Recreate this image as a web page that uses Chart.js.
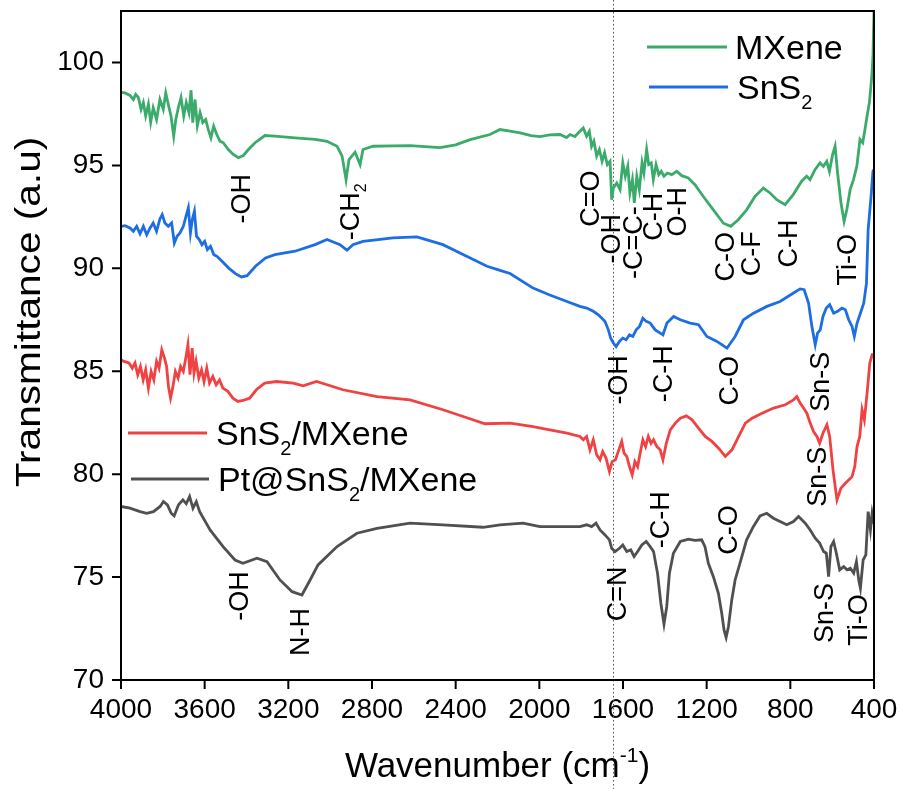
<!DOCTYPE html>
<html>
<head>
<meta charset="utf-8">
<script src="https://cdn.jsdelivr.net/npm/chart.js@4.4.1/dist/chart.umd.min.js"></script>
<style>
  html, body { margin: 0; padding: 0; background: #fff; }
  #wrap { position: relative; width: 902px; height: 789px; }
</style>
</head>
<body>
<div id="wrap"><canvas id="ftir"></canvas></div>
<script>
const FONT = "'Liberation Sans', Arial, sans-serif";

// FTIR spectra: wavenumber (cm-1) and transmittance (a.u.)
const mxeneWn = [4000, 3981, 3957, 3941, 3930, 3917, 3904, 3893, 3882, 3869, 3858, 3846, 3830, 3814, 3798, 3786, 3774, 3761, 3748, 3738, 3726, 3713, 3700, 3688, 3675, 3665, 3657, 3646, 3635, 3622, 3609, 3595, 3583, 3570, 3557, 3542, 3527, 3511, 3487, 3463, 3439, 3415, 3391, 3359, 3312, 3264, 3168, 3072,
  3015, 2967, 2943, 2924, 2910, 2881, 2857, 2843, 2795, 2700, 2618, 2475, 2400, 2331, 2236, 2188, 2140, 2092, 2040, 1997, 1950, 1901, 1870, 1853, 1830,
  1806, 1790, 1774, 1761, 1750, 1739, 1726, 1713, 1700, 1688, 1675, 1662, 1654, 1646, 1630, 1614, 1601, 1589, 1577, 1567, 1555, 1546, 1534, 1522, 1509, 1500, 1487, 1477, 1465, 1455, 1442, 1429, 1417, 1404, 1388, 1367, 1343, 1319, 1288, 1256, 1216, 1168, 1120, 1085, 1049, 1009, 969, 929, 897, 865, 825, 786, 746, 722, 706, 682, 658, 642, 626, 613, 598, 586, 574, 558, 543, 530, 514, 498, 482, 467, 454, 443, 432, 422, 410, 405, 400];
const mxeneT = [98.55, 98.52, 98.4, 98.2, 98.45, 98.3, 97.72, 98.05, 97.4, 97.97, 97.1, 97.8, 97.23, 98.2, 97.72, 98.52, 97.97, 97.4, 96.42, 97.23, 97.8, 98.3, 97.4, 98.05, 97.56, 98.65, 97.08, 98.2, 96.93, 97.56, 97.08, 97.23, 96.75, 96.34, 96.9, 96.5, 96.18, 96.1, 95.77, 95.53, 95.37, 95.48, 95.77, 96.1, 96.45, 96.42, 96.34, 96.26,
  96.17, 95.93, 95.45, 94.3, 95.28, 95.64, 95.04, 95.77, 95.93, 95.95, 95.96, 95.86, 96.0, 96.25, 96.5, 96.74, 96.66, 96.58, 96.45, 96.4, 96.48, 96.5, 96.35, 96.5, 96.4,
  96.66, 96.82, 96.42, 96.66, 95.93, 96.18, 95.45, 95.77, 95.2, 95.61, 95.04, 95.2, 93.33, 93.9, 94.14, 93.82, 95.12, 94.47, 94.96, 93.66, 94.31, 93.18, 94.47, 93.82, 95.12, 94.63, 95.77, 95.04, 95.12, 94.31, 95.04, 94.55, 94.71, 94.47, 94.63, 94.55, 94.71, 94.5, 94.39, 94.06, 93.49, 92.84, 92.19, 92.04, 92.36, 92.84, 93.49, 93.9, 93.66, 93.33, 93.09, 93.58, 94.23, 94.47, 94.31, 94.79, 95.12, 94.96, 95.2, 94.71, 95.52, 95.93, 94.63, 93.18, 92.28, 92.84, 93.82, 94.31, 94.96, 96.26, 96.1, 96.75, 97.47, 98.04, 99.4, 100.3, 102.5];

const sns2Wn = [4000, 3981, 3957, 3941, 3925, 3909, 3893, 3877, 3861, 3846, 3830, 3814, 3803, 3790, 3774, 3758, 3745, 3732, 3718, 3702, 3689, 3678, 3668, 3659, 3649, 3639, 3626, 3613, 3600, 3587, 3572, 3556, 3541, 3517, 3485, 3453, 3424, 3397, 3357, 3309, 3264, 3168, 3072,
  3015, 2953, 2920, 2891, 2843, 2700, 2585, 2461, 2350, 2250, 2188, 2140, 2030, 1950, 1868,
  1806, 1774, 1742, 1718, 1702, 1686, 1670, 1659, 1646, 1633, 1617, 1601, 1585, 1569, 1553, 1537, 1521, 1505, 1489, 1470, 1446, 1422, 1409, 1390, 1358, 1326, 1279, 1239, 1199, 1151, 1103, 1064, 1024, 976, 912, 849, 785, 753, 734, 713, 697, 681, 670, 657, 644, 628, 612, 593, 574, 553, 537, 521, 505, 494, 481, 465, 449, 436, 428, 414, 405, 400];
const sns2T = [92.04, 92.07, 91.96, 91.8, 92.04, 91.68, 92.04, 91.63, 91.96, 92.2, 91.8, 92.4, 92.61, 92.2, 92.04, 92.2, 91.23, 91.56, 91.72, 92.04, 92.53, 92.94, 91.72, 92.37, 92.77, 91.56, 91.4, 91.15, 91.31, 90.91, 91.07, 90.66, 90.58, 90.34, 90.01, 89.74, 89.58, 89.64, 90.1, 90.5, 90.66, 90.83, 91.15,
  91.4, 91.15, 90.88, 91.15, 91.31, 91.48, 91.53, 91.15, 90.6, 90.1, 89.9, 89.75, 89.04, 88.7, 88.39,
  88.15, 88.07, 87.91, 87.74, 87.58, 87.42, 87.01, 86.61, 86.37, 86.2, 86.45, 86.61, 86.53, 86.77, 86.69, 87.01, 87.18, 87.58, 87.42, 87.34, 87.01, 86.85, 86.77, 87.34, 87.66, 87.5, 87.34, 87.26, 86.69, 86.45, 86.12, 86.69, 87.5, 87.82, 88.15, 88.39, 88.8, 89.0, 88.96, 88.31, 87.18, 86.29, 86.85, 87.01, 87.66, 88.07, 88.23, 87.82, 87.91, 88.07, 87.99, 87.5, 87.18, 86.69, 87.34, 87.82, 88.31, 89.28, 91.88, 93.5, 94.71, 94.8];

const compWn = [4000, 3986, 3962, 3946, 3933, 3920, 3907, 3894, 3882, 3869, 3856, 3843, 3830, 3818, 3805, 3792, 3782, 3773, 3763, 3753, 3740, 3727, 3715, 3702, 3689, 3680, 3670, 3660, 3651, 3641, 3628, 3615, 3603, 3590, 3577, 3561, 3545, 3529, 3513, 3489, 3465, 3441, 3417, 3385, 3353, 3313, 3257, 3177, 3129, 3065,
  2939, 2776, 2618, 2461, 2350, 2260, 2140, 2030, 1950, 1868,
  1806, 1790, 1774, 1758, 1742, 1726, 1710, 1697, 1681, 1665, 1652, 1636, 1620, 1606, 1595, 1582, 1569, 1556, 1543, 1530, 1518, 1505, 1492, 1479, 1466, 1454, 1438, 1422, 1409, 1393, 1374, 1350, 1326, 1297, 1270, 1239, 1207, 1175, 1143, 1111, 1079, 1047, 1015, 983, 935, 880, 824, 785, 769, 753, 737, 721, 705, 689, 673, 660, 644, 625, 612, 596, 577, 558, 537, 521, 505, 492, 481, 468, 457, 446, 433, 420, 409, 400];
const compT = [85.56, 85.48, 85.4, 85.15, 85.4, 84.83, 85.23, 84.58, 85.07, 84.18, 84.99, 84.58, 85.48, 85.15, 86.04, 85.64, 85.23, 84.26, 83.69, 84.18, 84.99, 84.67, 85.23, 84.99, 85.72, 86.29, 84.83, 86.12, 84.91, 85.48, 84.67, 85.07, 84.5, 85.15, 84.42, 84.75, 84.34, 84.58, 84.18, 84.02, 83.69, 83.53, 83.58, 83.69, 84.1, 84.42, 84.5, 84.42, 84.29, 84.5,
  84.1, 83.77, 83.61, 83.13, 82.75, 82.45, 82.48, 82.31, 82.15, 81.99,
  81.83, 81.67, 81.83, 81.18, 81.67, 80.94, 80.7, 81.1, 80.78, 80.13, 80.61, 80.7, 81.18, 81.59, 81.02, 80.86, 80.37, 79.97, 80.61, 80.37, 81.02, 81.67, 81.34, 81.83, 81.5, 81.67, 81.34, 81.18, 80.7, 81.5, 82.15, 82.48, 82.72, 82.83, 82.64, 82.24, 81.83, 81.59, 81.26, 80.86, 81.18, 81.83, 82.48, 82.72, 82.96, 83.21, 83.37, 83.61, 83.77, 83.45, 83.21, 82.96, 82.48, 82.07, 81.83, 81.5, 81.99, 82.4, 81.83, 80.21, 78.75, 79.32, 79.56, 79.72, 79.88, 80.37, 81.34, 81.83, 83.13, 82.64, 83.94, 85.4, 85.8, 85.8];

const ptWn = [4000, 3957, 3909, 3877, 3845, 3813, 3797, 3778, 3760, 3746, 3725, 3704, 3688, 3672, 3656, 3640, 3624, 3574, 3512, 3455, 3417, 3350, 3302, 3240, 3182, 3135, 3096, 3058, 2967, 2872, 2776, 2618, 2461, 2269, 2188, 2078, 1997, 1868,
  1806, 1774, 1750, 1729, 1710, 1686, 1665, 1654, 1638, 1617, 1601, 1582, 1563, 1547, 1530, 1510, 1489, 1470, 1454, 1435, 1419, 1404, 1391, 1378, 1359, 1326, 1287, 1256, 1224, 1208, 1192, 1168, 1144, 1128, 1117, 1107, 1096, 1080, 1064, 1041, 1009, 977, 945, 913, 881, 849, 817, 785, 761, 745, 729, 705, 681, 660, 641, 628, 617, 606, 593, 580, 564, 545, 529, 513, 497, 484, 473, 465, 452, 439, 428, 417, 409, 400];
const ptT = [78.43, 78.35, 78.18, 78.1, 78.18, 78.43, 78.67, 78.51, 78.1, 77.97, 78.51, 78.75, 78.56, 78.91, 78.35, 78.67, 78.18, 77.29, 76.48, 75.83, 75.67, 75.92, 75.75, 74.86, 74.29, 74.13, 74.86, 75.59, 76.48, 77.13, 77.37, 77.62, 77.54, 77.42, 77.54, 77.62, 77.45, 77.45,
  77.45, 77.54, 77.45, 77.62, 77.29, 77.05, 76.81, 76.4, 76.24, 76.4, 76.56, 76.24, 76.32, 76.0, 76.24, 76.56, 76.73, 76.48, 76.24, 75.19, 73.73, 72.72, 73.56, 75.19, 76.16, 76.73, 76.84, 76.78, 76.81, 76.48, 75.67, 75.02, 74.21, 73.24, 72.43, 72.07, 72.59, 73.89, 74.86, 75.67, 76.81, 77.45, 77.97, 78.1, 77.86, 77.7, 77.54, 77.7, 77.94, 77.78, 77.62, 77.29, 76.89, 76.65, 76.24, 76.16, 75.02, 76.48, 76.73, 76.16, 75.35, 75.51, 75.35, 75.43, 75.19, 75.75, 74.86, 74.46, 75.83, 76.08, 78.18, 77.29, 78.1, 77.6];

const seriesNames = ["MXene", "SnS_2", "SnS_2/MXene", "Pt@SnS_2/MXene"];
const seriesColors = ["#3bab6b", "#1c6ee2", "#f04242", "#505050"];

// band assignments, placed at (wavenumber, transmittance)
const peakLabels = ["-OH", "-CH_2", "C=O", "-OH", "-C=C-", "C-H", "O-H", "C-O", "C-F", "C-H", "Ti-O",
  "-OH", "-C-H", "C-O", "Sn-S",
  "Sn-S",
  "-OH", "N-H", "C=N", "-C-H", "C-O", "Sn-S", "Ti-O"];
const peakLabelWn = [3431, 2910, 1762, 1662, 1557, 1461, 1347, 1117, 993, 816, 533,
  1629, 1413, 1098, 663,
  677,
  3441, 3149, 1633, 1428, 1103, 644, 481];
const peakLabelT = [93.38, 92.75, 93.38, 91.44, 91.25, 92.5, 92.75, 90.56, 90.71, 91.2, 90.42,
  84.58, 84.88, 84.54, 84.49,
  79.87,
  74.08, 72.33, 74.18, 77.78, 77.29, 73.26, 72.92];

const markerWn = 1650;   // dotted guide line
const xMin = 400, xMax = 4000, yMin = 70, yMax = 102.5;

// "_2" -> subscript, "^-1" -> superscript
function richParts(text) {
  return text.split(/([_^][0-9-]+)/).filter(s => s).map(s =>
    s[0] === '_' ? { s: s.slice(1), shift: 1 } :
    s[0] === '^' ? { s: s.slice(1), shift: -1 } : { s: s, shift: 0 });
}

function drawRich(ctx, text, x, y, size, opts) {
  opts = opts || {};
  const parts = richParts(text);
  const small = Math.round(size * 0.6);
  const fontOf = p => (p.shift ? small : size) + 'px ' + FONT;
  let w = 0;
  parts.forEach(p => { ctx.font = fontOf(p); p.w = ctx.measureText(p.s).width; w += p.w; });
  ctx.save();
  ctx.translate(x, y);
  ctx.rotate(opts.angle || 0);
  ctx.scale(opts.sx || 1, opts.sy || 1);
  ctx.fillStyle = '#000';
  ctx.textAlign = 'left';
  ctx.textBaseline = 'alphabetic';
  let cx = opts.align === 'center' ? -w / 2 : 0;
  const base = opts.vcenter ? size * 0.358 : 0;
  parts.forEach(p => {
    ctx.font = fontOf(p);
    const dy = p.shift === 1 ? size * 0.28 : p.shift === -1 ? -size * 0.42 : 0;
    ctx.fillText(p.s, cx, base + dy);
    cx += p.w;
  });
  ctx.restore();
}

const decor = {
  id: 'decor',
  beforeDatasetsDraw(chart) {
    const ctx = chart.ctx;
    const px = chart.scales.x.getPixelForValue(markerWn);
    ctx.save();
    ctx.strokeStyle = '#555';
    ctx.lineWidth = 1;
    ctx.setLineDash([1.5, 2.5]);
    ctx.beginPath();
    ctx.moveTo(Math.round(px) + 0.5, 0);
    ctx.lineTo(Math.round(px) + 0.5, chart.height);
    ctx.stroke();
    ctx.restore();
  },
  afterDatasetsDraw(chart) {
    const ctx = chart.ctx;
    const { left, right, top, bottom } = chart.chartArea;
    const xs = chart.scales.x, ys = chart.scales.y;
    ctx.save();
    ctx.strokeStyle = '#000';
    ctx.lineWidth = 2;
    ctx.strokeRect(left, top, right - left, bottom - top);
    // outward tick marks
    ctx.beginPath();
    xs.ticks.forEach(t => {
      const p = xs.getPixelForValue(t.value);
      const len = t.value % 400 === 0 ? 9 : 5;
      ctx.moveTo(p, bottom); ctx.lineTo(p, bottom + len);
    });
    ys.ticks.forEach(t => {
      const p = ys.getPixelForValue(t.value);
      const len = t.value % 5 === 0 ? 9 : 5;
      ctx.moveTo(left, p); ctx.lineTo(left - len, p);
    });
    ctx.stroke();
    ctx.restore();

    peakLabels.forEach((s, i) => {
      drawRich(ctx, s, xs.getPixelForValue(peakLabelWn[i]), ys.getPixelForValue(peakLabelT[i]), 27,
        { angle: -Math.PI / 2, align: 'center', vcenter: true });
    });

    // legends
    const legendRows = [
      { i: 0, x0: 647, x1: 727, y: 47, tx: 735 },
      { i: 1, x0: 649, x1: 728, y: 87, tx: 737 },
      { i: 2, x0: 128, x1: 207, y: 433, tx: 216 },
      { i: 3, x0: 131, x1: 209, y: 479, tx: 218 }
    ];
    legendRows.forEach(r => {
      ctx.save();
      ctx.strokeStyle = seriesColors[r.i];
      ctx.lineWidth = 3;
      ctx.beginPath();
      ctx.moveTo(r.x0, r.y); ctx.lineTo(r.x1, r.y);
      ctx.stroke();
      ctx.restore();
      drawRich(ctx, seriesNames[r.i], r.tx, r.y, 34, { vcenter: true });
    });

    // axis titles
    drawRich(ctx, 'Wavenumber (cm^-1)', (left + right) / 2, 777, 35, { align: 'center' });
    drawRich(ctx, 'Transmittance (a.u)', 27, 312, 35, { angle: -Math.PI / 2, align: 'center', vcenter: true, sx: 1.16 });
  }
};

function toPoints(wn, t) {
  return wn.map((w, i) => ({ x: w, y: t[i] }));
}

const datasets = [
  [mxeneWn, mxeneT], [sns2Wn, sns2T], [compWn, compT], [ptWn, ptT]
].map((d, i) => ({
  label: seriesNames[i].replace(/_/g, ''),
  data: toPoints(d[0], d[1]),
  borderColor: seriesColors[i],
  borderWidth: 2.8,
  pointRadius: 0,
  tension: 0,
  fill: false
}));

Chart.defaults.font.family = FONT;
Chart.defaults.color = '#000';

new Chart(document.getElementById('ftir'), {
  type: 'line',
  data: { datasets: datasets },
  options: {
    responsive: true,
    maintainAspectRatio: false,
    animation: false,
    layout: { padding: { left: 0, right: 28, top: 11, bottom: 0 } },
    plugins: { legend: { display: false }, tooltip: { enabled: false } },
    scales: {
      x: {
        type: 'linear',
        reverse: true,
        min: xMin,
        max: xMax,
        grid: { display: false, drawTicks: true, tickLength: 9 },
        border: { display: false },
        ticks: {
          stepSize: 200,
          autoSkip: false,
          maxRotation: 0,
          padding: 4,
          font: { size: 28 },
          callback: v => (v % 400 === 0 ? String(v) : null)
        },
        afterFit: s => { s.height = 109; s.paddingLeft = 0; s.paddingRight = 0; }
      },
      y: {
        min: yMin,
        max: yMax,
        grid: { display: false, drawTicks: true, tickLength: 9 },
        border: { display: false },
        ticks: {
          stepSize: 2.5,
          autoSkip: false,
          padding: 8,
          font: { size: 28 },
          callback: v => (v % 5 === 0 ? String(v) : null)
        },
        afterFit: s => { s.width = 121; s.paddingTop = 0; s.paddingBottom = 0; }
      }
    }
  },
  plugins: [decor]
});
</script>
</body>
</html>
